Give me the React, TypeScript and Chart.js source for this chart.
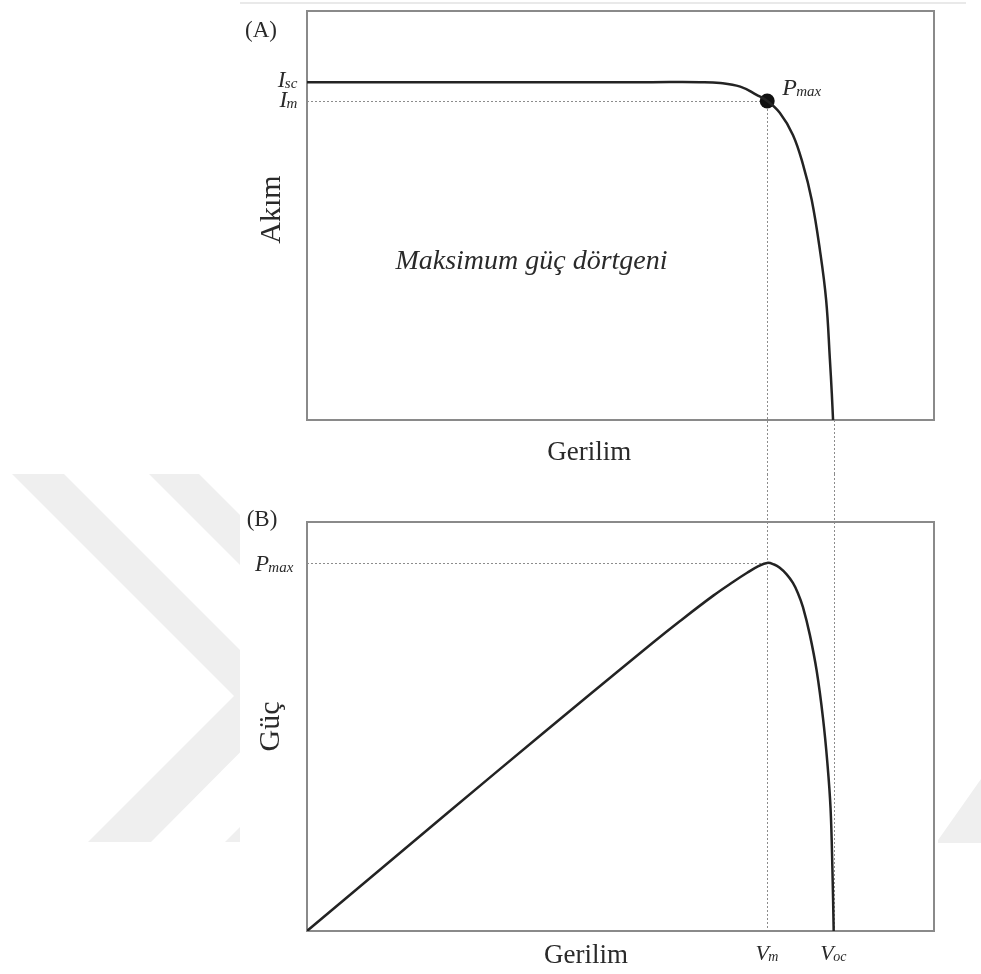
import { useEffect, useRef } from "react";
import { Chart, registerables } from "chart.js";

Chart.register(...registerables);

// I–V characteristic (normalised axis units 0–100)
const voltageIV = [0, 20, 40, 55, 62.7, 65.9, 69.1, 71.7, 73.4, 75.4, 77.5, 79.1, 80.5, 81.8, 82.8, 83.4, 83.7, 83.9];
const currentIV = [82.6, 82.6, 82.6, 82.6, 82.6, 82.4, 81.5, 79.5, 78.0, 75.1, 69.7, 62.5, 53.8, 41.6, 29.3, 14.7, 6.5, 0];

// P–V characteristic (normalised axis units 0–100)
const voltagePV = [0, 15, 30, 45, 55, 59.5, 64.8, 68, 70.2, 72, 73.4, 74.5, 75.4, 76.5, 77.5, 78.3, 79.1, 80.2, 81.3, 82.3, 83.0, 83.5, 83.8, 84.0];
const powerPV = [0, 19.3, 38.6, 57.7, 70.3, 75.8, 82.0, 85.4, 87.6, 89.2, 90.0, 89.6, 88.8, 87.2, 85.1, 82.6, 79.2, 72.4, 63.5, 52.0, 41.0, 30.0, 15.0, 0];

// Characteristic points
const V_M = 73.4;
const V_OC = 84.0;
const I_SC = 82.6;
const I_M = 78.0;
const P_MAX = 90.0;

type SubLabel = { base: string; sub: string; value: number };

const currentLabels: SubLabel[] = [
  { base: "I", sub: "sc", value: I_SC },
  { base: "I", sub: "m", value: I_M },
];
const voltageLabels: SubLabel[] = [
  { base: "V", sub: "m", value: V_M },
  { base: "V", sub: "oc", value: V_OC },
];
const powerLabels: SubLabel[] = [{ base: "P", sub: "max", value: P_MAX }];
const pointLabel: SubLabel = { base: "P", sub: "max", value: P_MAX };

const panelTitles = ["(A)", "(B)"];
const axisTitles = { current: "Akım", power: "Güç", voltage: "Gerilim" };
const areaNote = "Maksimum güç dörtgeni";

const FONT = '"Liberation Serif", "Times New Roman", serif';
const INK = "#232323";
const TEXT = "#2a2a2a";
const GUIDE = "#8c8c8c";
const FRAME = "#8a8a8a";
const SHADE = "#efefef";

const TOP_H = 474;
const BOTTOM_H = 500;

function drawSubLabel(
  ctx: CanvasRenderingContext2D,
  lab: SubLabel,
  x: number,
  y: number,
  align: "left" | "right" | "center",
  size = 24
) {
  const mainFont = `italic ${size}px ${FONT}`;
  const subFont = `italic ${Math.round(size * 0.64)}px ${FONT}`;
  ctx.font = mainFont;
  const w1 = ctx.measureText(lab.base).width;
  ctx.font = subFont;
  const w2 = ctx.measureText(lab.sub).width;
  const total = w1 + w2;
  const x0 = align === "left" ? x : align === "right" ? x - total : x - total / 2;
  ctx.save();
  ctx.fillStyle = TEXT;
  ctx.textAlign = "left";
  ctx.textBaseline = "alphabetic";
  ctx.font = mainFont;
  ctx.fillText(lab.base, x0, y);
  ctx.font = subFont;
  ctx.fillText(lab.sub, x0 + w1 - size * 0.03, y + 1);
  ctx.restore();
}

function dotted(ctx: CanvasRenderingContext2D, x1: number, y1: number, x2: number, y2: number) {
  ctx.save();
  ctx.strokeStyle = GUIDE;
  ctx.lineWidth = 1;
  ctx.setLineDash([2, 2]);
  ctx.beginPath();
  const sx = x1 === x2 ? Math.round(x1) + 0.5 : x1;
  const sy = y1 === y2 ? Math.round(y1) + 0.5 : y1;
  const ex = x1 === x2 ? sx : x2;
  const ey = y1 === y2 ? sy : y2;
  ctx.moveTo(sx, sy);
  ctx.lineTo(ex, ey);
  ctx.stroke();
  ctx.restore();
}

function frame(chart: Chart) {
  const { ctx, chartArea } = chart;
  ctx.save();
  ctx.strokeStyle = FRAME;
  ctx.lineWidth = 2;
  ctx.strokeRect(chartArea.left, chartArea.top, chartArea.right - chartArea.left, chartArea.bottom - chartArea.top);
  ctx.restore();
}

function plainText(ctx: CanvasRenderingContext2D, text: string, x: number, y: number, font: string) {
  ctx.save();
  ctx.fillStyle = TEXT;
  ctx.font = font;
  ctx.textAlign = "center";
  ctx.textBaseline = "alphabetic";
  ctx.fillText(text, x, y);
  ctx.restore();
}

function verticalText(ctx: CanvasRenderingContext2D, text: string, x: number, y: number, size: number) {
  ctx.save();
  ctx.translate(x, y);
  ctx.rotate(-Math.PI / 2);
  ctx.fillStyle = TEXT;
  ctx.font = `${size}px ${FONT}`;
  ctx.textAlign = "center";
  ctx.textBaseline = "alphabetic";
  ctx.fillText(text, 0, 0);
  ctx.restore();
}

const baseOptions = (bottomPad: number, topPad: number, canvasH: number) => ({
  animation: false as const,
  responsive: false,
  maintainAspectRatio: false,
  events: [] as any[],
  layout: { padding: { left: 307, right: 47, top: topPad, bottom: canvasH - bottomPad } },
  scales: {
    x: { type: "linear" as const, min: 0, max: 100, display: false },
    y: { type: "linear" as const, min: 0, max: 100, display: false },
  },
  plugins: { legend: { display: false }, tooltip: { enabled: false } },
});

// Upper panel: current vs voltage
const currentPanel = {
  id: "currentPanel",
  beforeDraw(chart: Chart) {
    const ctx = chart.ctx;
    ctx.save();
    ctx.strokeStyle = "#e2e2e2";
    ctx.lineWidth = 1.5;
    ctx.beginPath();
    ctx.moveTo(240, 3);
    ctx.lineTo(966, 3);
    ctx.stroke();
    ctx.restore();
  },
  beforeDatasetsDraw(chart: Chart) {
    const { ctx, chartArea, scales } = chart;
    const xs = scales.x;
    const ys = scales.y;
    frame(chart);
    const xm = xs.getPixelForValue(V_M);
    const ym = ys.getPixelForValue(I_M);
    dotted(ctx, chartArea.left, ym, xm, ym);
    dotted(ctx, xm, ym, xm, chart.height);
    const xoc = xs.getPixelForValue(V_OC);
    dotted(ctx, xoc, chartArea.bottom, xoc, chart.height);
  },
  afterDraw(chart: Chart) {
    const { ctx, chartArea, scales } = chart;
    const xs = scales.x;
    const ys = scales.y;
    const w = chartArea.right - chartArea.left;
    const h = chartArea.bottom - chartArea.top;
    plainText(ctx, panelTitles[0], chartArea.left - 46, chartArea.top + 26, `23px ${FONT}`);
    currentLabels.forEach((lab, i) => {
      drawSubLabel(ctx, lab, chartArea.left - 9, ys.getPixelForValue(lab.value) + (i === 0 ? 5 : 6), "right", 23);
    });
    drawSubLabel(
      ctx,
      pointLabel,
      xs.getPixelForValue(V_M) + 15,
      ys.getPixelForValue(I_M) - 6,
      "left",
      24
    );
    verticalText(ctx, axisTitles.current, 280, (chartArea.top + chartArea.bottom) / 2 - 6, 30);
    plainText(ctx, axisTitles.voltage, chartArea.left + 0.45 * w, chartArea.bottom + 40, `27px ${FONT}`);
    plainText(ctx, areaNote, chartArea.left + 0.358 * w, chartArea.top + 0.63 * h, `italic 28px ${FONT}`);
  },
};

// Lower panel: power vs voltage
const powerPanel = {
  id: "powerPanel",
  beforeDraw(chart: Chart) {
    const ctx = chart.ctx;
    const off = TOP_H;
    ctx.save();
    ctx.beginPath();
    ctx.rect(0, 0, 240, chart.height);
    ctx.rect(938, 0, 60, chart.height);
    ctx.clip();
    ctx.fillStyle = SHADE;
    const bands: number[][][] = [
      [[10, 472], [62, 472], [291, 701], [151, 842], [88, 842], [234, 696]],
      [[147, 472], [197, 472], [423, 698], [280, 842], [225, 842], [371, 696]],
      [[936, 843], [981, 843], [981, 779]],
    ];
    bands.forEach((poly) => {
      ctx.beginPath();
      poly.forEach(([px, py], i) => {
        if (i === 0) ctx.moveTo(px, py - off);
        else ctx.lineTo(px, py - off);
      });
      ctx.closePath();
      ctx.fill();
    });
    ctx.restore();
  },
  beforeDatasetsDraw(chart: Chart) {
    const { ctx, chartArea, scales } = chart;
    const xs = scales.x;
    const ys = scales.y;
    frame(chart);
    const xm = xs.getPixelForValue(V_M);
    const yp = ys.getPixelForValue(P_MAX);
    dotted(ctx, chartArea.left, yp, xm, yp);
    dotted(ctx, xm, 0, xm, chartArea.bottom);
    const xoc = xs.getPixelForValue(V_OC);
    dotted(ctx, xoc, 0, xoc, chartArea.bottom);
  },
  afterDraw(chart: Chart) {
    const { ctx, chartArea, scales } = chart;
    const xs = scales.x;
    const ys = scales.y;
    const w = chartArea.right - chartArea.left;
    plainText(ctx, panelTitles[1], chartArea.left - 45, chartArea.top + 4, `23px ${FONT}`);
    powerLabels.forEach((lab) => {
      drawSubLabel(ctx, lab, chartArea.left - 13, ys.getPixelForValue(lab.value) + 8, "right", 23);
    });
    voltageLabels.forEach((lab) => {
      drawSubLabel(ctx, lab, xs.getPixelForValue(lab.value), chartArea.bottom + 29, "center", 22);
    });
    verticalText(ctx, axisTitles.power, 279, (chartArea.top + chartArea.bottom) / 2, 30);
    plainText(ctx, axisTitles.voltage, chartArea.left + 0.445 * w, chartArea.bottom + 32, `27px ${FONT}`);
  },
};

const curveStyle = {
  borderColor: INK,
  borderWidth: 2.5,
  pointRadius: 0,
  tension: 0.4,
  cubicInterpolationMode: "default" as const,
  fill: false,
};

export default function App() {
  const refA = useRef<HTMLCanvasElement>(null);
  const refB = useRef<HTMLCanvasElement>(null);

  useEffect(() => {
    const ivData = voltageIV.map((v, i) => ({ x: v, y: currentIV[i] }));
    const pvData = voltagePV.map((v, i) => ({ x: v, y: powerPV[i] }));

    const chartA = new Chart(refA.current!, {
      type: "line",
      data: {
        datasets: [
          { data: ivData, ...curveStyle },
          {
            data: [{ x: V_M, y: I_M }],
            showLine: false,
            pointRadius: 7.5,
            pointBackgroundColor: "#111",
            pointBorderWidth: 0,
          },
        ],
      },
      options: baseOptions(420, 11, TOP_H) as any,
      plugins: [currentPanel],
    });

    const chartB = new Chart(refB.current!, {
      type: "line",
      data: {
        datasets: [{ data: pvData, ...curveStyle }],
      },
      options: baseOptions(931 - TOP_H, 522 - TOP_H, BOTTOM_H) as any,
      plugins: [powerPanel],
    });

    return () => {
      chartA.destroy();
      chartB.destroy();
    };
  }, []);

  return (
    <div style={{ position: "absolute", left: 0, top: 0, width: 981, height: 974, background: "#fff" }}>
      <canvas ref={refA} width={981} height={TOP_H} style={{ position: "absolute", left: 0, top: 0 }} />
      <canvas ref={refB} width={981} height={BOTTOM_H} style={{ position: "absolute", left: 0, top: TOP_H }} />
    </div>
  );
}
